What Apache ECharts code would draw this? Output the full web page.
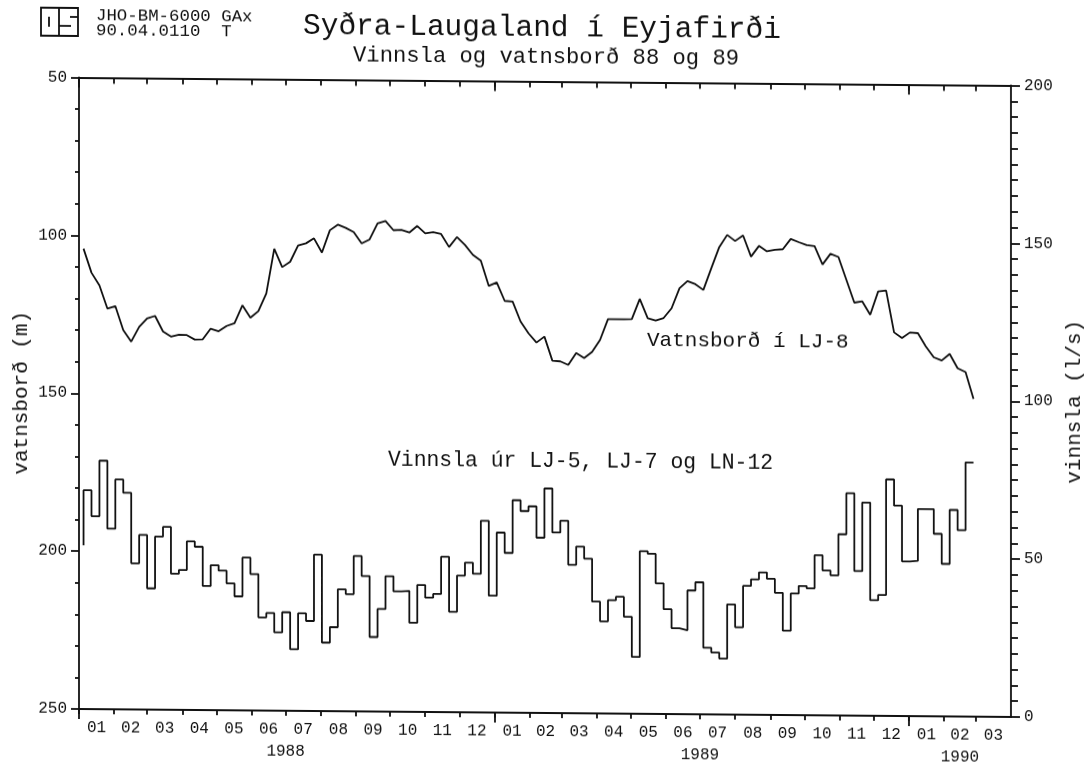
<!DOCTYPE html>
<html>

<head>
    <title>Syðra-Laugaland í Eyjafirði</title>
    <meta http-equiv="content-type" content="text/html; charset=utf-8">
    <script src="https://cdn.jsdelivr.net/npm/echarts@6/dist/echarts.min.js"></script>
    <style type="text/css">
        html, body {
            margin: 0;
            background: #fff;
            overflow: hidden;
        }
        /* the reference is a slightly crooked scan */
        #main {
            width: 1088px;
            height: 768px;
            transform: skewY(0.49deg);
            transform-origin: 79px 0;
        }
    </style>
</head>

<body>
    <div id="main"></div>
    <script type="text/javascript">
        // days since 1988-01-01
        var monthStarts = [0, 31, 60, 91, 121, 152, 182, 213, 244, 274, 305, 335,
            366, 397, 425, 456, 486, 517, 547, 578, 609, 639, 670, 700,
            731, 762, 790];
        var monthLabels = ['01', '02', '03', '04', '05', '06', '07', '08', '09', '10', '11', '12',
            '01', '02', '03', '04', '05', '06', '07', '08', '09', '10', '11', '12',
            '01', '02', '03'];
        var axisEnd = 821;
        var yearTicks = [0, 366, 731];
        var yearCenters = [182, 547, 776];
        var yearLabels = ['1988', '1989', '1990'];

        var firstDay = 4;
        var weekLength = 7;

        // weekly water level, m (left axis, upside down)
        var vatnsbord = [
            104.2, 111.8, 115.8, 123.1, 122.3, 129.9, 133.5, 128.8, 126.1, 125.3,
            130.2, 131.8, 131.2, 131.3, 132.7, 132.6, 129.2, 130, 128.3, 127.4,
            121.7, 125.6, 123.5, 117.9, 103.7, 109.5, 107.8, 102.6, 101.9, 100.3,
            104.8, 97.7, 95.9, 96.9, 98.2, 101.8, 100.5, 95.4, 94.6, 97.5,
            97.4, 98.2, 96.1, 98.4, 98, 98.6, 102.7, 99.5, 102, 105.1,
            106.9, 114.9, 113.8, 119.6, 119.8, 126.1, 129.8, 132.7, 130.8, 138.4,
            138.6, 139.7, 135.9, 137.5, 135.5, 131.7, 125.1, 125.1, 125.1, 125,
            118.6, 124.7, 125.4, 124.6, 121.5, 115.1, 112.8, 113.8, 115.6, 108.7,
            102, 98.1, 100, 98.2, 104.9, 101.5, 103.2, 102.7, 102.5, 99.2,
            100.2, 101.1, 101.4, 107.2, 103.8, 104.8, 112, 119.2, 118.8, 123,
            115.6, 115.3, 128.5, 130.3, 128.5, 128.7, 132.9, 136.3, 137.3, 135.2,
            139.7, 140.9, 149.4
        ];

        // weekly production, l/s (right axis)
        var vinnsla = [
            51.9, 69.3, 61.1, 78.7, 57.2, 72.8, 68.6, 46.3, 55.3, 38.4,
            54.8, 57.9, 43.1, 44.3, 53.4, 51.7, 39.3, 45.9, 44.2, 40.2,
            36.1, 48.4, 43.2, 29.5, 30.9, 24.8, 31.2, 19.5, 30.9, 28.5,
            49.5, 21.7, 26.6, 38.6, 37.1, 49.2, 42.9, 23.6, 32.5, 42.9,
            38.1, 38.3, 28.2, 40.2, 36.2, 37.4, 49.2, 31.8, 43.3, 47.4,
            43.9, 60.7, 37, 57, 50.6, 67.3, 63.9, 65.4, 55.5, 71.1,
            57.2, 60.9, 47, 52.8, 49, 35.4, 29.2, 35.9, 37, 30.7,
            18, 51.5, 50.7, 41.4, 33.2, 27.2, 26.6, 39.2, 41.8, 21.1,
            19.6, 17.7, 34.9, 27.7, 40.8, 42.9, 45.1, 43.1, 38.7, 26.7,
            38.5, 40.9, 40.2, 50.7, 45.9, 44.4, 57.4, 70.4, 45.8, 67.5,
            36.6, 38.3, 74.9, 66.6, 49, 49.2, 65.6, 65.6, 57.8, 48.3,
            65.4, 59, 80.5
        ];

        var pair = function (arr) {
            var res = [];
            for (var i = 0; i < arr.length; i++) {
                res.push([firstDay + i * weekLength, arr[i]]);
            }
            return res;
        };

        // month labels sit in the middle of each month
        var monthCenters = [];
        var labelByDay = {};
        monthStarts.forEach(function (start, i) {
            var end = i + 1 < monthStarts.length ? monthStarts[i + 1] : axisEnd;
            var mid = (start + end) / 2;
            monthCenters.push(mid);
            labelByDay[mid] = monthLabels[i];
        });

        var font = 'Liberation Mono';
        var ink = '#111';
        var axisWidth = 1.8;
        var line = { show: true, onZero: false, lineStyle: { color: ink, width: axisWidth } };

        var xBase = function (extra) {
            return Object.assign({
                type: 'value',
                min: 0,
                max: axisEnd,
                splitLine: { show: false },
                axisLine: line
            }, extra);
        };

        var chart = echarts.init(document.getElementById('main'));

        var option = {
            animation: false,
            backgroundColor: '#fff',
            grid: { left: 79, top: 77.5, width: 932, height: 631.5, outerBoundsMode: 'none' },
            xAxis: [
                xBase({
                    position: 'bottom',
                    axisTick: { show: true, length: 5, customValues: monthStarts, lineStyle: { color: ink, width: axisWidth } },
                    axisLabel: {
                        show: true,
                        customValues: monthCenters,
                        margin: 11,
                        color: ink,
                        fontFamily: font,
                        fontSize: 16,
                        formatter: function (v) { return labelByDay[v]; }
                    }
                }),
                xBase({
                    position: 'bottom',
                    axisTick: { show: true, length: 10, customValues: yearTicks, lineStyle: { color: ink, width: axisWidth } },
                    axisLabel: {
                        show: true,
                        customValues: yearCenters,
                        margin: 33,
                        color: ink,
                        fontFamily: font,
                        fontSize: 16,
                        formatter: function (v) { return yearLabels[yearCenters.indexOf(v)]; }
                    }
                }),
                xBase({
                    position: 'top',
                    axisTick: { show: true, inside: true, length: 6, customValues: monthStarts, lineStyle: { color: ink, width: axisWidth } },
                    axisLabel: { show: false }
                }),
                xBase({
                    position: 'top',
                    axisTick: { show: true, inside: true, length: 10, customValues: yearTicks, lineStyle: { color: ink, width: axisWidth } },
                    axisLabel: { show: false }
                })
            ],
            yAxis: [
                {
                    type: 'value',
                    position: 'left',
                    inverse: true,
                    min: 50,
                    max: 250,
                    interval: 50,
                    name: 'vatnsborð (m)',
                    nameLocation: 'middle',
                    nameGap: 47,
                    nameRotate: 90,
                    nameMoveOverlap: false,
                    nameTextStyle: { color: ink, fontFamily: font, fontSize: 21 },
                    splitLine: { show: false },
                    axisLine: line,
                    axisTick: { show: true, length: 8, lineStyle: { color: ink, width: axisWidth } },
                    minorTick: { show: true, splitNumber: 5, length: 4, lineStyle: { color: ink, width: axisWidth } },
                    axisLabel: { color: ink, fontFamily: font, fontSize: 16, margin: 12 }
                },
                {
                    type: 'value',
                    position: 'right',
                    min: 0,
                    max: 200,
                    interval: 50,
                    name: 'vinnsla (l/s)',
                    nameLocation: 'middle',
                    nameGap: 50,
                    nameRotate: 90,
                    nameTextStyle: { color: ink, fontFamily: font, fontSize: 21 },
                    splitLine: { show: false },
                    axisLine: line,
                    axisTick: { show: true, length: 9, lineStyle: { color: ink, width: axisWidth } },
                    minorTick: { show: true, splitNumber: 10, length: 7, lineStyle: { color: ink, width: axisWidth } },
                    axisLabel: { color: ink, fontFamily: font, fontSize: 16, margin: 13 }
                }
            ],
            series: [
                {
                    name: 'Vatnsborð í LJ-8',
                    type: 'line',
                    xAxisIndex: 0,
                    yAxisIndex: 0,
                    showSymbol: false,
                    lineStyle: { color: ink, width: 1.8 },
                    data: pair(vatnsbord)
                },
                {
                    name: 'Vinnsla úr LJ-5, LJ-7 og LN-12',
                    type: 'line',
                    step: 'start',
                    xAxisIndex: 0,
                    yAxisIndex: 1,
                    showSymbol: false,
                    lineStyle: { color: ink, width: 1.8 },
                    data: pair(vinnsla)
                }
            ],
            graphic: [
                { type: 'text', left: 303, top: 9, style: { text: 'Syðra-Laugaland í Eyjafirði', fill: ink, font: '29.5px "Liberation Mono"' } },
                { type: 'text', left: 353, top: 42, style: { text: 'Vinnsla og vatnsborð 88 og 89', fill: ink, font: '22.2px "Liberation Mono"' } },
                { type: 'text', left: 96, top: 7, style: { text: 'JHO-BM-6000 GAx', fill: ink, font: '17.4px "Liberation Mono"' } },
                { type: 'text', left: 96, top: 22, style: { text: '90.04.0110  T', fill: ink, font: '17.4px "Liberation Mono"' } },
                { type: 'text', left: 647, top: 325, style: { text: 'Vatnsborð í LJ-8', fill: ink, font: '21px "Liberation Mono"' } },
                { type: 'text', left: 388, top: 447, style: { text: 'Vinnsla úr LJ-5, LJ-7 og LN-12', fill: ink, font: '21.4px "Liberation Mono"' } },
                // logo box
                { type: 'rect', shape: { x: 41, y: 8, width: 37, height: 28 }, style: { fill: 'none', stroke: ink, lineWidth: 1.8 } },
                { type: 'line', shape: { x1: 59, y1: 8, x2: 59, y2: 36 }, style: { stroke: ink, lineWidth: 1.8 } },
                { type: 'line', shape: { x1: 49, y1: 17, x2: 49, y2: 27 }, style: { stroke: ink, lineWidth: 1.8 } },
                { type: 'line', shape: { x1: 70, y1: 17, x2: 78, y2: 17 }, style: { stroke: ink, lineWidth: 1.8 } },
                { type: 'line', shape: { x1: 59, y1: 26, x2: 71, y2: 26 }, style: { stroke: ink, lineWidth: 1.8 } }
            ]
        };
        chart.setOption(option);
    </script>
</body>

</html>
